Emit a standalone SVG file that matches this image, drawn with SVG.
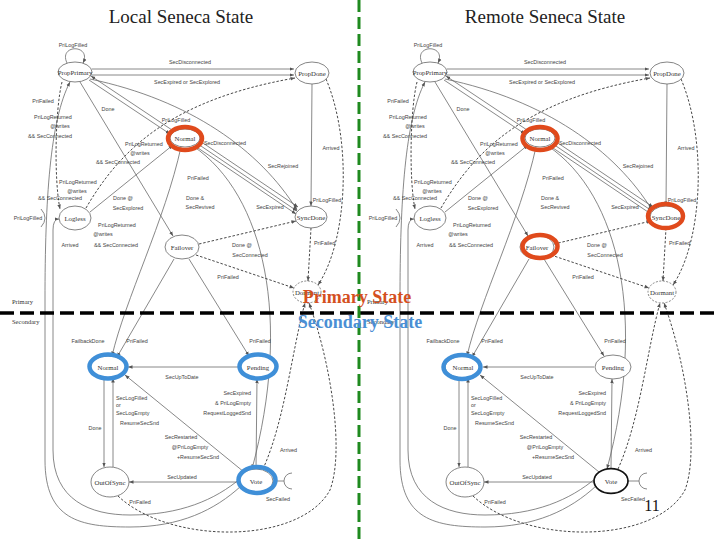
<svg xmlns="http://www.w3.org/2000/svg" xmlns:xlink="http://www.w3.org/1999/xlink" width="720" height="540" viewBox="0 0 720 540">
<style>
.e{fill:none;stroke:#6a6a6a;stroke-width:0.8}
.d{stroke-dasharray:2.5,1.8;stroke:#333;stroke-width:0.9}
.a{marker-end:url(#ah)}
.n ellipse{fill:#fff;stroke:#666;stroke-width:0.8}
.n text{font-family:"Liberation Serif","DejaVu Serif",serif;font-size:6.8px;fill:#333;text-anchor:middle}
.l{font-family:"Liberation Sans",Arial,sans-serif;font-size:5.4px;fill:#444;text-anchor:middle}
.s{text-anchor:start}
.r{text-anchor:end}
.ps{font-family:"Liberation Serif",serif;font-size:6.5px;fill:#333}
.t{font-family:"Liberation Serif","Times New Roman",serif;font-size:19px;fill:#222;text-anchor:middle}
.hr{fill:none;stroke:#e04a1c;stroke-width:4.5}
.hb{fill:none;stroke:#3f8fd8;stroke-width:4.5}
.big{font-family:"Liberation Serif","Times New Roman",serif;font-size:18px;font-weight:bold;text-anchor:middle}
</style>
<defs>
<marker id="ah" viewBox="0 0 10 10" refX="10" refY="5" markerWidth="4.5" markerHeight="4.5" markerUnits="userSpaceOnUse" orient="auto"><path d="M0,1 L10,5 L0,9 z" fill="#555"/></marker>
</defs>
<rect width="720" height="540" fill="#fff"/>
<text class="t" x="181" y="23">Local Seneca State</text>
<text class="t" x="545" y="23">Remote Seneca State</text>

<g id="local">
<g id="connectors">
<path class="e a" d="M92,69 L294,69"/>
<path class="e a" d="M92,75 L294,75"/>
<path class="e a" d="M67,63 C58,44 92,44 83,63"/>
<path class="e a" d="M172,130 L91,76"/>
<path class="e a" d="M89,80 L170,134"/>
<path class="e a" d="M90,79 C190,100 260,150 297,210"/>
<path class="e a" d="M80,82 L173,236"/>
<path class="e d a" d="M86,208 C120,150 170,100 295,78"/>
<path class="e a" d="M90,212 L173,145"/>
<path class="e a" d="M200,141 L298,207"/>
<path class="e a" d="M198,144 L297,211"/>
<path class="e a" d="M195,146 L296,214"/>
<path class="e a" d="M193,146 C265,195 292,320 252,469"/>
<path class="e a" d="M181,147 C165,220 125,300 112,356"/>
<path class="e a" d="M174,259 L117,357"/>
<path class="e a" d="M189,259 L249,356"/>
<path class="e d a" d="M199,244 L296,221"/>
<path class="e d a" d="M196,255 L294,288"/>
<path class="e d a" d="M311,228 L308,281"/>
<path class="e a" d="M312,84 L311,206"/>
<path class="e d a" d="M326,79 C352,140 348,240 318,285"/>
<path class="e d a" d="M118,496 C170,545 300,545 330,490 C345,450 330,360 309,303"/>
<path class="e d a" d="M263,469 C285,420 292,350 305,303"/>
<path class="e a" d="M239,367 L128,367"/>
<path class="e a" d="M104,378 L104,467"/>
<path class="e a" d="M113,467 L113,378"/>
<path class="e a" d="M256,469 L257,379"/>
<path class="e a" d="M244,472 L125,375"/>
<path class="e a" d="M240,482 L129,482"/>
<path class="e" d="M273,481 L284,481"/>
<path class="e" d="M292,473 A8,8 0 0 0 292,489"/>
<path class="e a" d="M241,486 C215,510 180,527 130,527 C80,527 45,520 45,460 L45,300 C45,200 50,120 70,82"/>
<path class="e a" d="M241,478 C215,500 180,515 130,515 C90,515 53,500 53,450 L53,230 Q53,219 59,219"/>
<path class="e d a" d="M62,82 C55,110 54,180 60,209"/>
<path class="e" d="M41,209 Q49,218 41,227"/>
<text class="l" x="73" y="47">PriLogFilled</text>
<text class="l" x="190" y="64">SecDisconnected</text>
<text class="l" x="187" y="84">SecExpired or SecExplored</text>
<text class="l" x="43" y="103">PriFailed</text>
<text class="l" x="53" y="119">PriLogReturned</text>
<text class="l" x="60" y="128">@writes</text>
<text class="l" x="50" y="138">&amp;&amp; SecConnected</text>
<text class="l" x="108" y="111">Done</text>
<text class="l" x="176" y="122">PriLogFilled</text>
<text class="l" x="144" y="146">PriLogReturned</text>
<text class="l" x="140" y="155">@writes</text>
<text class="l" x="118" y="164">&amp;&amp; SecConnected</text>
<text class="l s" x="204" y="145">SecDisconnected</text>
<text class="l" x="331" y="150">Arrived</text>
<text class="l" x="283" y="168">SecRejoined</text>
<text class="l" x="198" y="180">PriFailed</text>
<text class="l" x="78" y="184">PriLogReturned</text>
<text class="l" x="77" y="193">@writes</text>
<text class="l" x="60" y="200">&amp;&amp; SecConnected</text>
<text class="l" x="123" y="200">Done @</text>
<text class="l" x="128" y="210">SecExplored</text>
<text class="l" x="195" y="200">Done &amp;</text>
<text class="l" x="200" y="209">SecRevived</text>
<text class="l" x="270" y="209">SecExpired</text>
<text class="l" x="327" y="202">PriLogFilled</text>
<text class="l" x="28" y="220">PriLogFilled</text>
<text class="l" x="117" y="227">PriLogReturned</text>
<text class="l" x="103" y="236">@writes</text>
<text class="l" x="116" y="247">&amp;&amp; SecConnected</text>
<text class="l" x="70" y="247">Arrived</text>
<text class="l s" x="314" y="245">PriFailed</text>
<text class="l" x="242" y="247">Done @</text>
<text class="l" x="250" y="257">SecConnected</text>
<text class="l" x="228" y="279">PriFailed</text>
<text class="ps" x="12" y="304">Primary</text>
<text class="ps" x="12" y="324">Secondary</text>
<text class="l" x="88" y="343">FailbackDone</text>
<text class="l" x="137" y="343">PriFailed</text>
<text class="l" x="260" y="343">PriFailed</text>
<text class="l" x="182" y="379">SecUpToDate</text>
<text class="l s" x="116" y="400">SecLogFilled</text>
<text class="l s" x="116" y="407">or</text>
<text class="l s" x="116" y="415">SecLogEmpty</text>
<text class="l s" x="120" y="425">ResumeSecSnd</text>
<text class="l" x="95" y="430">Done</text>
<text class="l r" x="251" y="395">SecExpired</text>
<text class="l r" x="251" y="405">&amp; PriLogEmpty</text>
<text class="l r" x="251" y="415">RequestLoggedSnd</text>
<text class="l" x="181" y="439">SecRestarted</text>
<text class="l" x="190" y="449">@PriLogEmpty</text>
<text class="l" x="198" y="459">+ResumeSecSnd</text>
<text class="l s" x="280" y="452">Arrived</text>
<text class="l" x="182" y="479">SecUpdated</text>
<text class="l" x="278" y="501">SecFailed</text>
<text class="l" x="140" y="504">PriFailed</text>
</g>
<g id="n-propprimary" class="n"><ellipse cx="75" cy="72" rx="17" ry="10"/><text x="75" y="74.5">PropPrimary</text></g>
<g id="n-propdone" class="n"><ellipse cx="312" cy="73" rx="17" ry="11"/><text x="312" y="75.5">PropDone</text></g>
<g id="n-normal" class="n"><ellipse cx="185" cy="138" rx="15" ry="9"/><text x="185" y="140.5">Normal</text></g>
<g id="n-logless" class="n"><ellipse cx="75" cy="218" rx="16" ry="12"/><text x="75" y="220.5">Logless</text></g>
<g id="n-syncdone" class="n"><ellipse cx="311" cy="217" rx="16" ry="11"/><text x="311" y="219.5">SyncDone</text></g>
<g id="n-failover" class="n"><ellipse cx="182" cy="247" rx="17" ry="12"/><text x="182" y="249.5">Failover</text></g>
<g id="n-dormant" class="n"><ellipse cx="307" cy="292" rx="14" ry="11" style="stroke-dasharray:2,1.5"/><text x="307" y="294.5">Dormant</text></g>
<g id="n-secnormal" class="n"><ellipse cx="108" cy="367" rx="18" ry="11"/><text x="108" y="369.5">Normal</text></g>
<g id="n-pending" class="n"><ellipse cx="258" cy="367" rx="18" ry="12"/><text x="258" y="369.5">Pending</text></g>
<g id="n-outofsync" class="n"><ellipse cx="110" cy="482" rx="19" ry="15"/><text x="110" y="484.5">OutOfSync</text></g>
<g id="n-vote" class="n"><ellipse cx="256" cy="481" rx="17" ry="12"/><text x="256" y="483.5">Vote</text></g>
</g>

<use id="remote" xlink:href="#local" href="#local" transform="translate(355,0)"/>

<g id="highlights">
<ellipse class="hr" cx="185" cy="138.5" rx="17" ry="11.5"/>
<ellipse class="hb" cx="108" cy="366.5" rx="18.5" ry="12"/>
<ellipse class="hb" cx="258" cy="366.5" rx="18.5" ry="12"/>
<ellipse class="hb" cx="257" cy="480" rx="18.5" ry="13"/>
<ellipse class="hr" cx="540" cy="138.5" rx="17.5" ry="11.5"/>
<ellipse class="hr" cx="665.5" cy="216" rx="17.5" ry="12"/>
<ellipse class="hr" cx="540" cy="246.5" rx="17.5" ry="11.5"/>
<ellipse class="hb" cx="462" cy="367" rx="18.5" ry="12"/>
<ellipse cx="611" cy="481" rx="17" ry="12.5" fill="none" stroke="#111" stroke-width="1.6"/>
</g>

<line x1="0" y1="313" x2="720" y2="313" stroke="#000" stroke-width="3.5" stroke-dasharray="14,6"/>
<line x1="359" y1="0" x2="359" y2="540" stroke="#1f8a1f" stroke-width="3" stroke-dasharray="12,5"/>
<text class="big" x="357" y="303" fill="#d4501f">Primary State</text>
<text class="big" x="360" y="328" fill="#4a8fd4">Secondary State</text>
<text x="652" y="511" font-family="Liberation Serif, serif" font-size="16" fill="#111" text-anchor="middle">11</text>
</svg>
